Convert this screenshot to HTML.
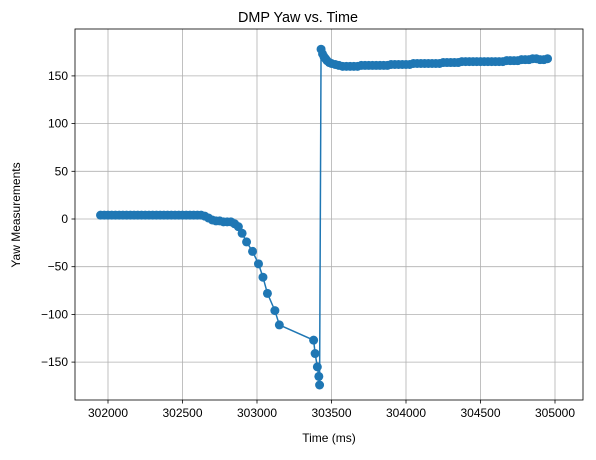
<!DOCTYPE html>
<html><head><meta charset="utf-8"><style>
body{margin:0;background:#fff;font-family:"Liberation Sans","DejaVu Sans",sans-serif}
</style></head><body>
<svg width="596" height="455" xmlns="http://www.w3.org/2000/svg">
<rect x="0" y="0" width="596" height="455" fill="#fff"/>
<g id="grid"></g>
<g id="series"></g>
<rect x="75" y="29" width="508" height="371" fill="none" stroke="#000" stroke-width="0.8"/>
<g id="axes" font-size="12" fill="#000"></g>
<text x="298" y="22" text-anchor="middle" font-size="14.4">DMP Yaw vs. Time</text>
<text x="329" y="442" text-anchor="middle" font-size="12">Time (ms)</text>
<text transform="translate(20,215) rotate(-90)" text-anchor="middle" font-size="12">Yaw Measurements</text>
</svg>
<script>
const times=[301950,301975,302000,302025,302050,302075,302100,302125,302150,302175,302200,302225,302250,302275,302300,302325,302350,302375,302400,302425,302450,302475,302500,302525,302550,302575,302600,302625,302650,302675,302700,302725,302750,302775,302800,302825,302850,302875,302900,302930,302970,303010,303040,303070,303120,303150,303380,303390,303405,303415,303420,303430,303440,303450,303460,303470,303485,303500,303525,303550,303575,303600,303625,303650,303675,303700,303725,303750,303775,303800,303825,303850,303875,303900,303925,303950,303975,304000,304025,304050,304075,304100,304125,304150,304175,304200,304225,304250,304275,304300,304325,304350,304375,304400,304425,304450,304475,304500,304525,304550,304575,304600,304625,304650,304675,304700,304725,304750,304775,304800,304825,304850,304875,304900,304925,304950];
const yaw=[4,4,4,4,4,4,4,4,4,4,4,4,4,4,4,4,4,4,4,4,4,4,4,4,4,4,4,4,3,1,-1,-2,-2,-3,-3,-3,-5,-8,-15,-24,-34,-47,-61,-78,-96,-111,-127,-141,-155,-165,-174,178,173,170,168,166,164,163,162,161,160,160,160,160,160,161,161,161,161,161,161,161,161,162,162,162,162,162,162,163,163,163,163,163,163,163,163,164,164,164,164,164,165,165,165,165,165,165,165,165,165,165,165,165,166,166,166,166,167,167,167,168,168,167,167,168,169,170,170];
const xTicks=[302000,302500,303000,303500,304000,304500,305000];
const yTicks=[150,100,50,0,-50,-100,-150];
const NS="http://www.w3.org/2000/svg";
const X=t=>108+(t-302000)*0.149;
const Y=v=>219-v*0.954;
const grid=document.getElementById('grid'),axes=document.getElementById('axes'),ser=document.getElementById('series');
function mk(tag,at,parent){const e=document.createElementNS(NS,tag);for(const k in at)e.setAttribute(k,at[k]);parent.appendChild(e);return e;}
xTicks.forEach(t=>{const x=X(t);
 const g=mk('line',{x1:x,x2:x,y1:29,y2:400,stroke:'#b0b0b0','stroke-width':0.8},grid);
 
 
 mk('line',{x1:x,x2:x,y1:400,y2:403.5,stroke:'#000','stroke-width':0.8},axes);
 const tx=mk('text',{x:x,y:417,'text-anchor':'middle'},axes);tx.textContent=t;
 
 
});
yTicks.forEach(v=>{const y=Y(v);
 const g=mk('line',{x1:75,x2:583,y1:y,y2:y,stroke:'#b0b0b0','stroke-width':0.8},grid);
 
 
 mk('line',{x1:71.5,x2:75,y1:y,y2:y,stroke:'#000','stroke-width':0.8},axes);
 const tx=mk('text',{x:68,y:y+4,'text-anchor':'end'},axes);tx.textContent=v<0?'\u2212'+(-v):v;
 
 
});
const pts=times.map((t,i)=>X(t)+','+Y(yaw[i])).join(' ');
const pl=mk('polyline',{points:pts,fill:'none',stroke:'#1f77b4','stroke-width':1.5},ser);


times.forEach((t,i)=>{const c=mk('circle',{cx:X(t),cy:Y(yaw[i]),r:4.5,fill:'#1f77b4'},ser);
 
 
});
</script>
</body></html>
